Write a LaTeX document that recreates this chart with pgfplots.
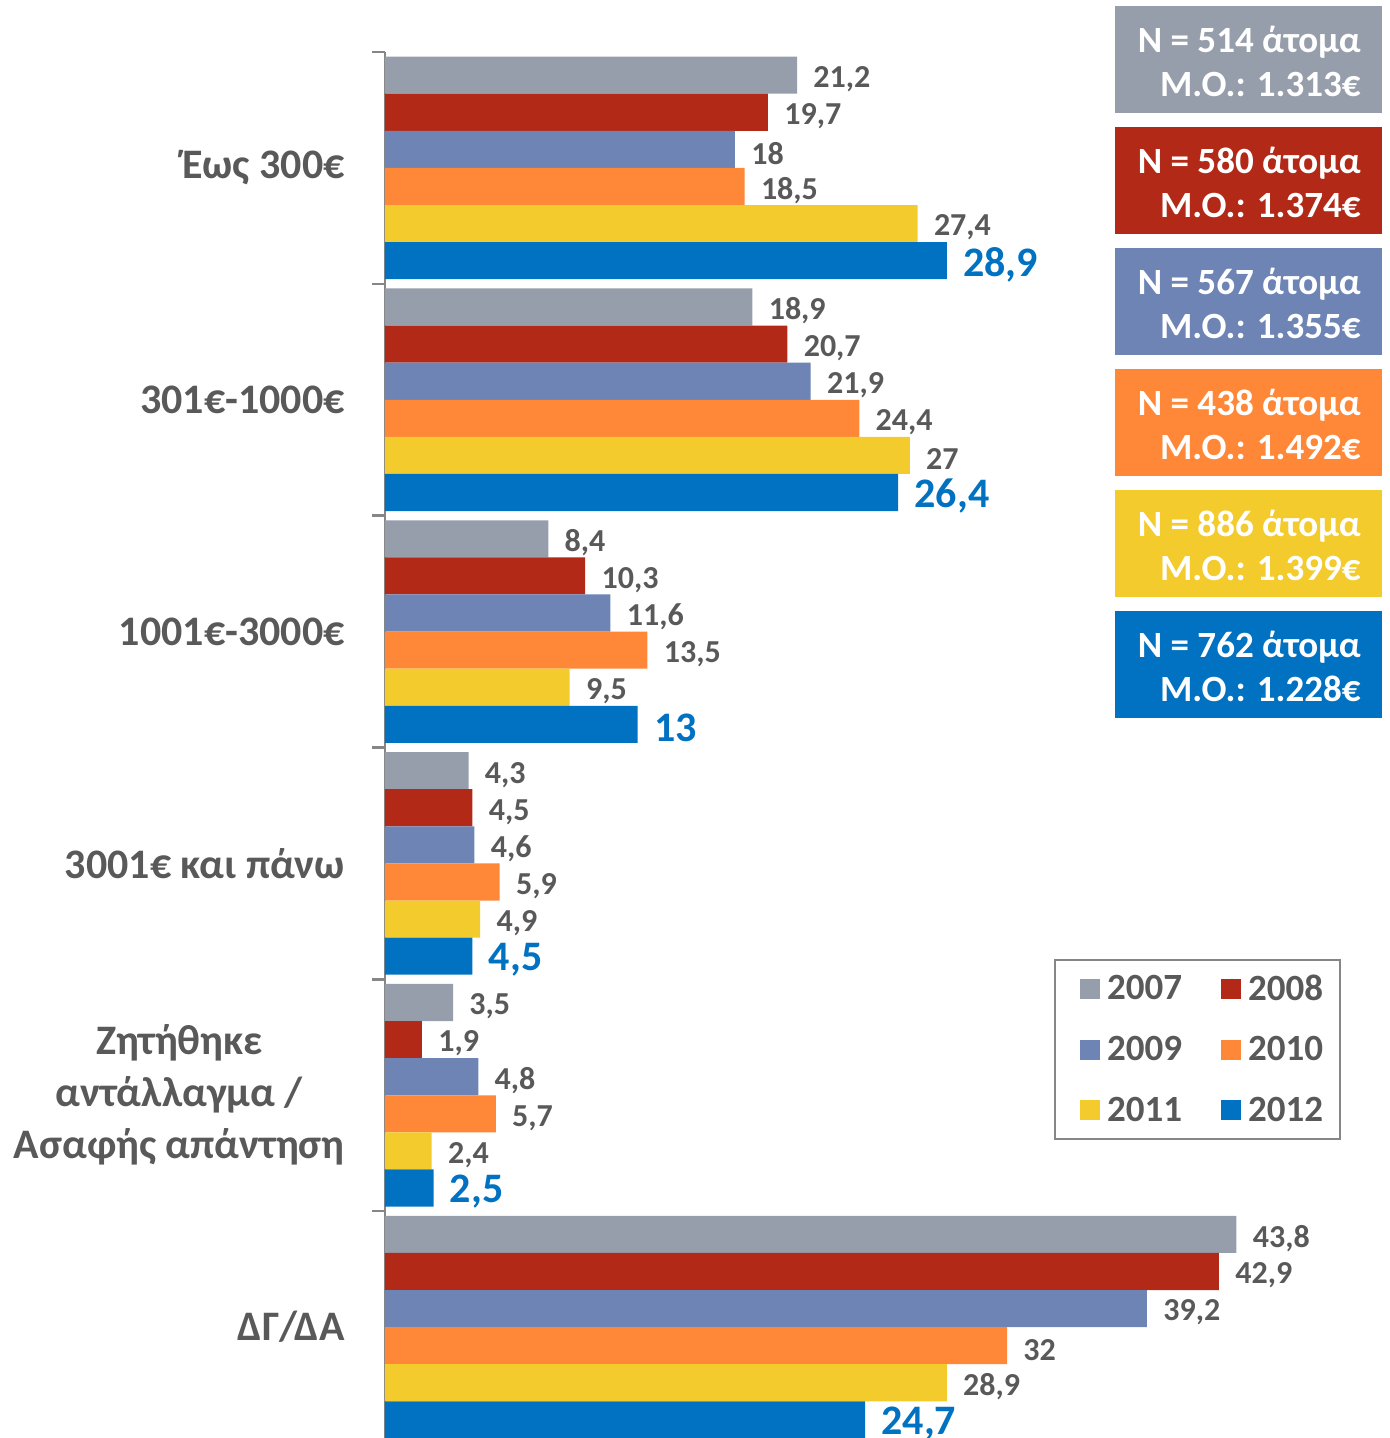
\documentclass[border=0pt]{standalone}
\usepackage{fontspec}
\setmainfont{Carlito}
\usepackage{pgfplots}
\pgfplotsset{compat=1.18}
\definecolor{c07}{HTML}{979EAB}
\definecolor{c08}{HTML}{B22A17}
\definecolor{c09}{HTML}{6D84B5}
\definecolor{c10}{HTML}{FF8838}
\definecolor{c11}{HTML}{F4CB2C}
\definecolor{c12}{HTML}{0072C1}
\definecolor{txt}{HTML}{595959}
\definecolor{axgray}{HTML}{868686}
\pgfplotsset{sq/.style={legend image code/.code={\fill[##1] (0pt,-5pt) rectangle (10pt,5pt);}}}
\newcommand\nbox[4]{%
  \fill[#1] (365pt,#2-26.75pt) rectangle (498.5pt,#2+26.75pt);
  \node[text=white, anchor=east, inner sep=0pt, align=right, font=\fontsize{18.5}{22}\selectfont\bfseries] at (488pt,#2-1pt) {N = #3 άτομα\\Μ.Ο.: #4€};}
\begin{document}
\begin{tikzpicture}[font=\bfseries]
\useasboundingbox (-192.5pt,0pt) rectangle (502pt,719pt);
\begin{axis}[
  at={(0pt,-2.5pt)}, anchor=south west,
  scale only axis, width=498.5pt, height=695.5pt,
  xbar, bar width=0.16,
  xmin=0, xmax=51.29, ymin=-0.5, ymax=5.5, y dir=reverse,
  axis y line*=left, axis x line=none, xtick=\empty,
  ytick={0,...,5},
  yticklabels={Έως 300€, 301€-1000€, 1001€-3000€, 3001€ και πάνω, {Ζητήθηκε\\αντάλλαγμα /\\Ασαφής απάντηση}, ΔΓ/ΔΑ},
  minor ytick={-0.5,0.5,...,5.5},
  major tick length=0pt, minor tick length=6.5pt, tick align=outside,
  y axis line style={axgray, line width=1.2pt},
  minor tick style={axgray, line width=1.2pt},
  yticklabel style={font=\fontsize{21}{26}\selectfont\bfseries, text=txt, align=center, anchor=east, inner sep=0pt, xshift=-20pt},
  nodes near coords, nodes near coords align=horizontal,
  every node near coord/.append style={font=\fontsize{16}{19}\selectfont\bfseries, text=txt, anchor=west, inner sep=0pt, xshift=8pt, yshift=-2pt},
  /pgf/number format/use comma, /pgf/number format/assume math mode=true,
  clip=false,
  legend columns=2,
  legend style={at={(0.9589,0.348)}, anchor=north east, draw=axgray, line width=1pt,
    font=\fontsize{18.5}{21}\selectfont\bfseries, text=txt, inner xsep=12.5pt, inner ysep=5.5pt,
    /tikz/every even column/.append style={column sep=17.5pt}, row sep=12.5pt},
]
\addplot[fill=c07, draw=none, bar shift=-0.4, sq] coordinates {(21.2,0) (18.9,1) (8.4,2) (4.3,3) (3.5,4) (43.8,5)};
\addplot[fill=c08, draw=none, bar shift=-0.24, sq] coordinates {(19.7,0) (20.7,1) (10.3,2) (4.5,3) (1.9,4) (42.9,5)};
\addplot[fill=c09, draw=none, bar shift=-0.08, sq] coordinates {(18,0) (21.9,1) (11.6,2) (4.6,3) (4.8,4) (39.2,5)};
\addplot[fill=c10, draw=none, bar shift=0.08, sq] coordinates {(18.5,0) (24.4,1) (13.5,2) (5.9,3) (5.7,4) (32,5)};
\addplot[fill=c11, draw=none, bar shift=0.24, sq] coordinates {(27.4,0) (27,1) (9.5,2) (4.9,3) (2.4,4) (28.9,5)};
\addplot[fill=c12, draw=none, bar shift=0.4, sq, every node near coord/.append style={font=\fontsize{21}{25}\selectfont\bfseries, text=c12}] coordinates {(28.9,0) (26.4,1) (13,2) (4.5,3) (2.5,4) (24.7,5)};
\legend{\kern1.5pt 2007,\kern1.5pt 2008\kern-6pt,\kern1.5pt 2009,\kern1.5pt 2010\kern-6pt,\kern1.5pt 2011,\kern1.5pt 2012\kern-6pt}
\end{axis}
\nbox{c07}{689.25pt}{514}{1.313}
\nbox{c08}{628.75pt}{580}{1.374}
\nbox{c09}{568.25pt}{567}{1.355}
\nbox{c10}{507.75pt}{438}{1.492}
\nbox{c11}{447.25pt}{886}{1.399}
\nbox{c12}{386.75pt}{762}{1.228}
\end{tikzpicture}
\end{document}
